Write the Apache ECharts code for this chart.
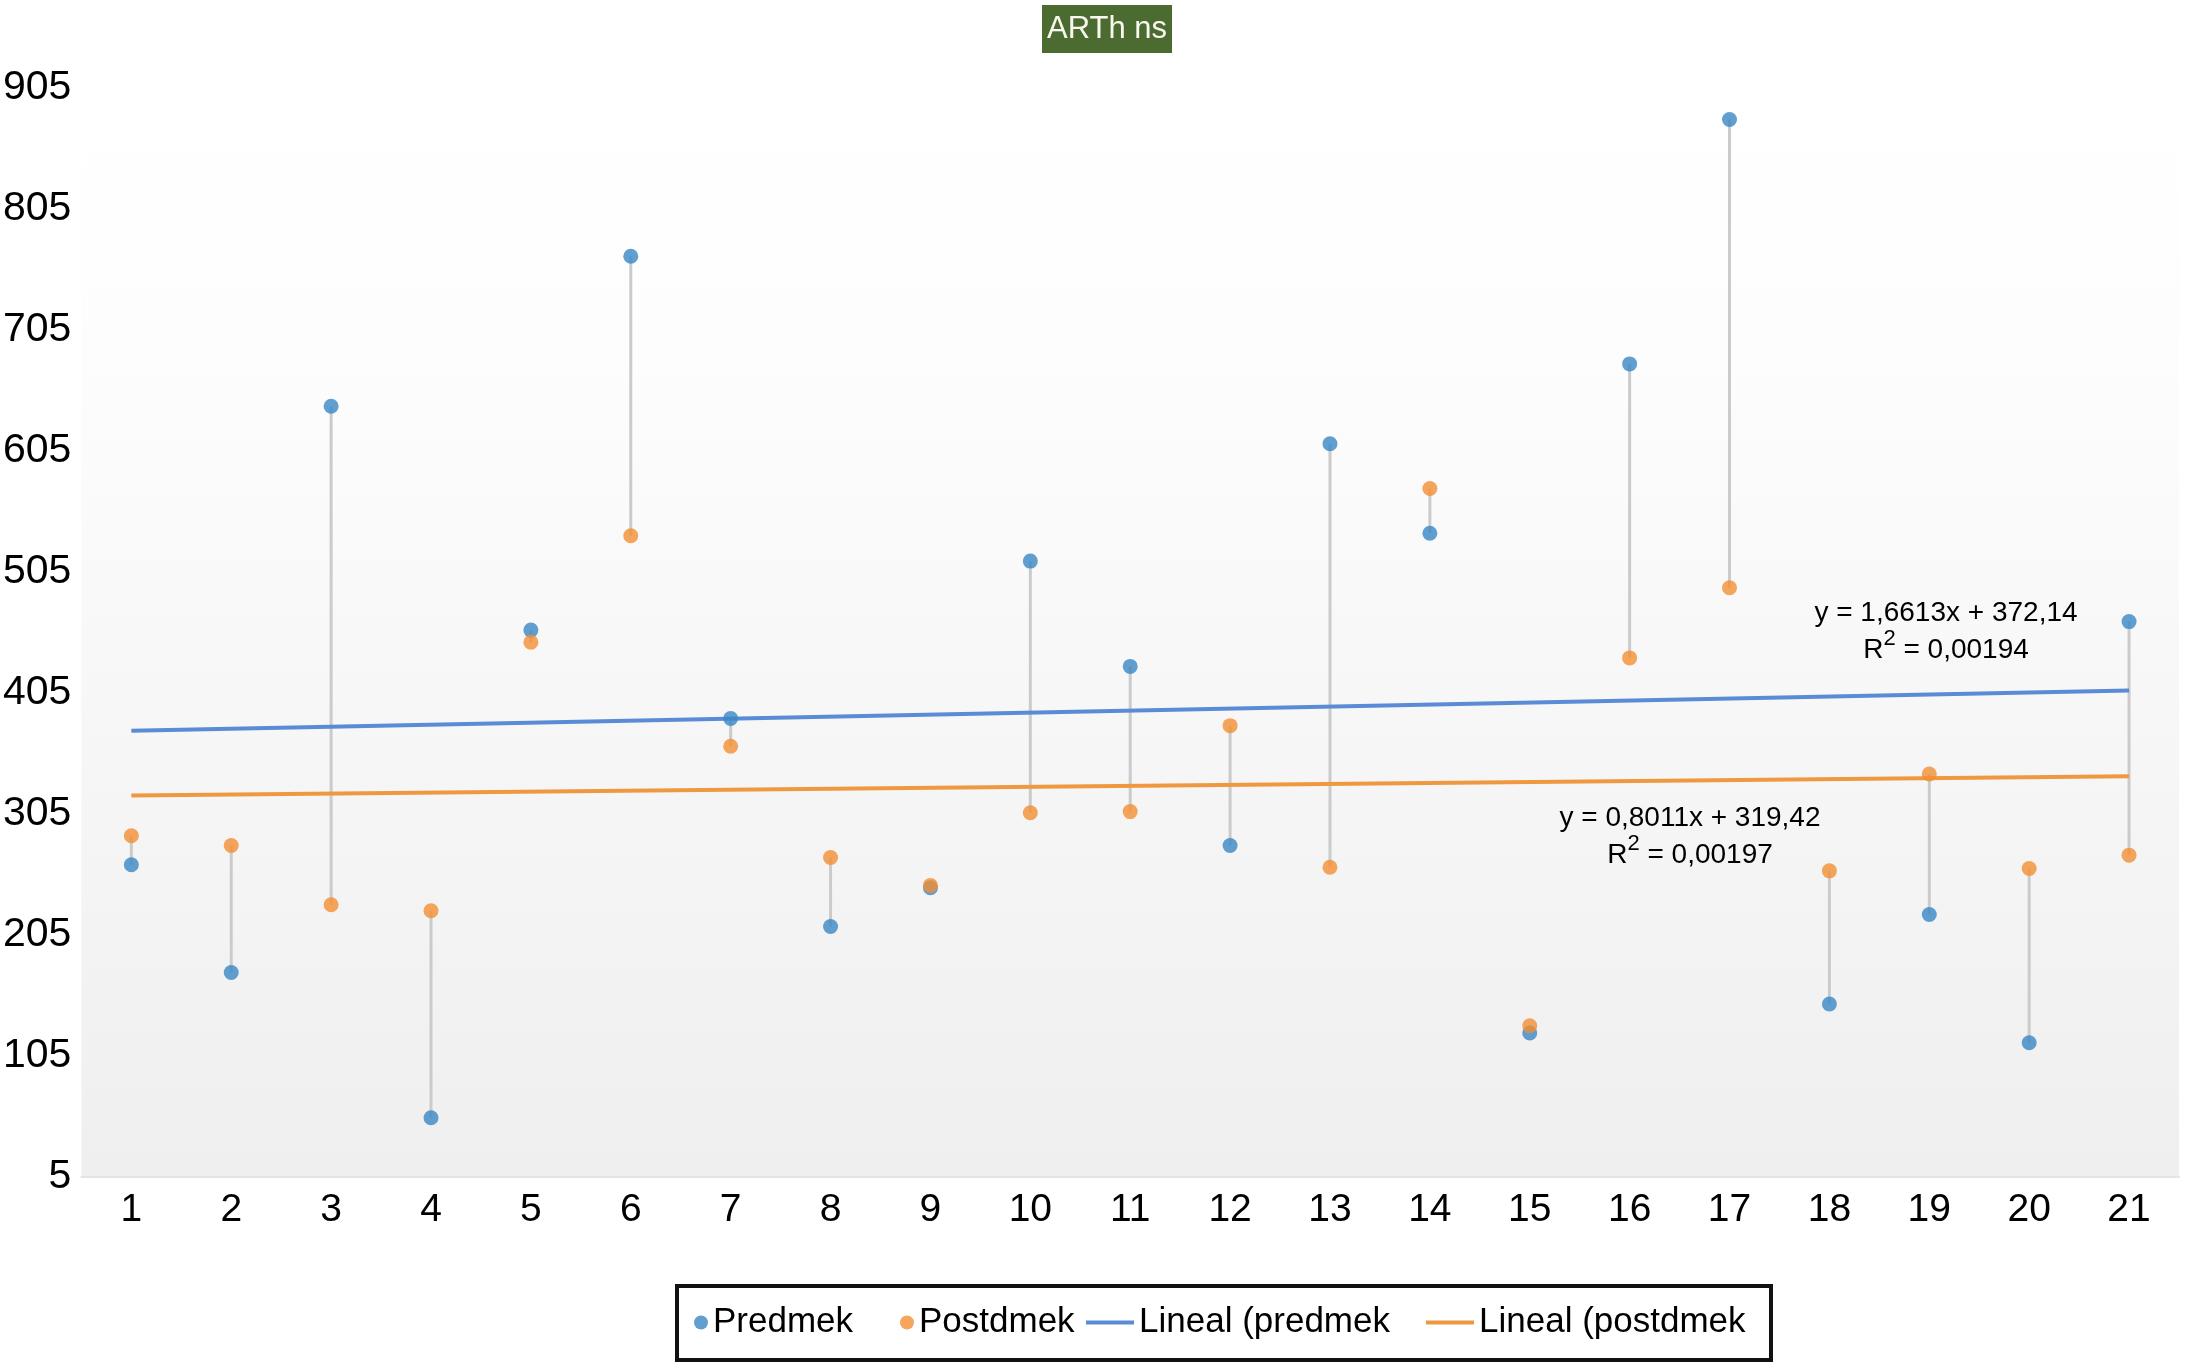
<!DOCTYPE html>
<html>
<head>
<meta charset="utf-8">
<script src="https://cdn.jsdelivr.net/npm/echarts@6/dist/echarts.min.js"></script>
<style>
html,body{margin:0;padding:0;background:#fff;}
#chart{width:2187px;height:1362px;}
</style>
</head>
<body>
<div id="chart"></div>
<script>
// ---- data ----
var categories = ['1','2','3','4','5','6','7','8','9','10','11','12','13','14','15','16','17','18','19','20','21'];
var predmek  = [263, 174, 642, 54, 457, 766, 384, 212, 244, 514, 427, 279, 611, 537, 124, 677, 879, 148, 222, 116, 464];
var postdmek = [287, 279, 230, 225, 447, 535, 361, 269, 246, 306, 307, 378, 261, 574, 130, 434, 492, 258, 338, 260, 271];
// trend line end values (at category 1 and 21)
var trendPred = [373.8, 407.0];
var trendPost = [320.2, 336.2];
var yTicks = [5, 105, 205, 305, 405, 505, 605, 705, 805, 905];
var eqPred = ['y = 1,6613x + 372,14', '0,00194'];
var eqPost = ['y = 0,8011x + 319,42', '0,00197'];

var FONT = '"Liberation Sans", Arial, Helvetica, sans-serif';
var BLUE = '#3b87c6', ORANGE = '#f28f33';
var TBLUE = '#5a8bd6', TORANGE = '#f0983f';

var chart = echarts.init(document.getElementById('chart'));

var connectors = categories.map(function (c, i) { return [i, predmek[i], postdmek[i]]; });

function legendItem(name, left, icon, w, h) {
  return {
    data: [{name: name, icon: icon}],
    left: left, top: 1305, orient: 'horizontal',
    itemWidth: w, itemHeight: h, padding: 0, itemGap: 0,
    selectedMode: false,
    textStyle: {fontSize: 35, color: '#000', fontFamily: FONT}
  };
}

function eqText(lines, cx, cy) {
  return [
    {type: 'text', x: cx, y: cy, style: {text: lines[0], fontSize: 28, fontFamily: FONT, fill: '#000', align: 'center', verticalAlign: 'middle'}},
    {type: 'text', x: cx, y: cy + 33, style: {
      text: '{n|R}{s|2}{n| = ' + lines[1] + '}',
      align: 'center', verticalAlign: 'middle',
      rich: {
        n: {fontSize: 28, fontFamily: FONT, fill: '#000', lineHeight: 36, verticalAlign: 'bottom'},
        s: {fontSize: 22, fontFamily: FONT, fill: '#000', lineHeight: 36, verticalAlign: 'top'}
      }
    }}
  ];
}

var option = {
  backgroundColor: '#ffffff',
  animation: false,
  title: {
    text: 'ARTh ns', left: 1042, top: 5, padding: [8, 5],
    backgroundColor: '#4b6b30',
    textStyle: {color: '#f8f8ee', fontSize: 31, fontWeight: 'normal', fontFamily: FONT, lineHeight: 32}
  },
  grid: {
    left: 76, right: 8, top: 88, bottom: 185, show: true, borderWidth: 0,
    backgroundColor: {type: 'linear', x: 0, y: 0, x2: 0, y2: 1, colorStops: [
      {offset: 0, color: '#ffffff'}, {offset: 0.24, color: '#fdfdfd'}, {offset: 1, color: '#efefef'}
    ]}
  },
  legend: [
    legendItem('Predmek', 694, 'circle', 14, 14),
    legendItem('Postdmek', 900, 'circle', 14, 14),
    legendItem('Lineal (predmek', 1086, 'rect', 48, 4),
    legendItem('Lineal (postdmek', 1426, 'rect', 48, 4)
  ],
  xAxis: {
    type: 'category', data: categories, boundaryGap: true,
    axisLine: {show: true, lineStyle: {color: '#e4e4e4', width: 2}},
    axisTick: {show: false},
    splitLine: {show: false},
    axisLabel: {fontSize: 39, color: '#000', fontFamily: FONT, margin: 14}
  },
  yAxis: {
    type: 'value', min: 5, max: 905,
    axisLine: {show: false}, axisTick: {show: false}, splitLine: {show: false},
    axisLabel: {fontSize: 41, color: '#000', fontFamily: FONT, margin: 10, customValues: yTicks}
  },
  graphic: [
    {type: 'rect', shape: {x: 677, y: 1286, width: 1094, height: 74}, style: {fill: 'none', stroke: '#111', lineWidth: 4}, z: 100}
  ].concat(eqText(eqPred, 1946, 613)).concat(eqText(eqPost, 1690, 818)),
  series: [
    {
      type: 'custom', name: 'hl', z: 1, silent: true,
      data: connectors,
      encode: {x: 0, y: [1, 2]},
      renderItem: function (params, api) {
        var p1 = api.coord([api.value(0), api.value(1)]);
        var p2 = api.coord([api.value(0), api.value(2)]);
        return {type: 'line', shape: {x1: p1[0], y1: p1[1], x2: p2[0], y2: p2[1]},
                style: {stroke: '#cbcbcb', lineWidth: 3}};
      }
    },
    {
      type: 'line', name: 'Lineal (predmek', z: 3, symbol: 'none',
      data: [[0, trendPred[0]], [categories.length - 1, trendPred[1]]],
      lineStyle: {color: TBLUE, width: 4}, itemStyle: {color: TBLUE}
    },
    {
      type: 'line', name: 'Lineal (postdmek', z: 3, symbol: 'none',
      data: [[0, trendPost[0]], [categories.length - 1, trendPost[1]]],
      lineStyle: {color: TORANGE, width: 4}, itemStyle: {color: TORANGE}
    },
    {
      type: 'scatter', name: 'Predmek', z: 5, symbol: 'circle', symbolSize: 15,
      data: predmek, itemStyle: {color: BLUE}
    },
    {
      type: 'scatter', name: 'Postdmek', z: 6, symbol: 'circle', symbolSize: 15,
      data: postdmek, itemStyle: {color: ORANGE}
    }
  ]
};
chart.setOption(option);
</script>
</body>
</html>
